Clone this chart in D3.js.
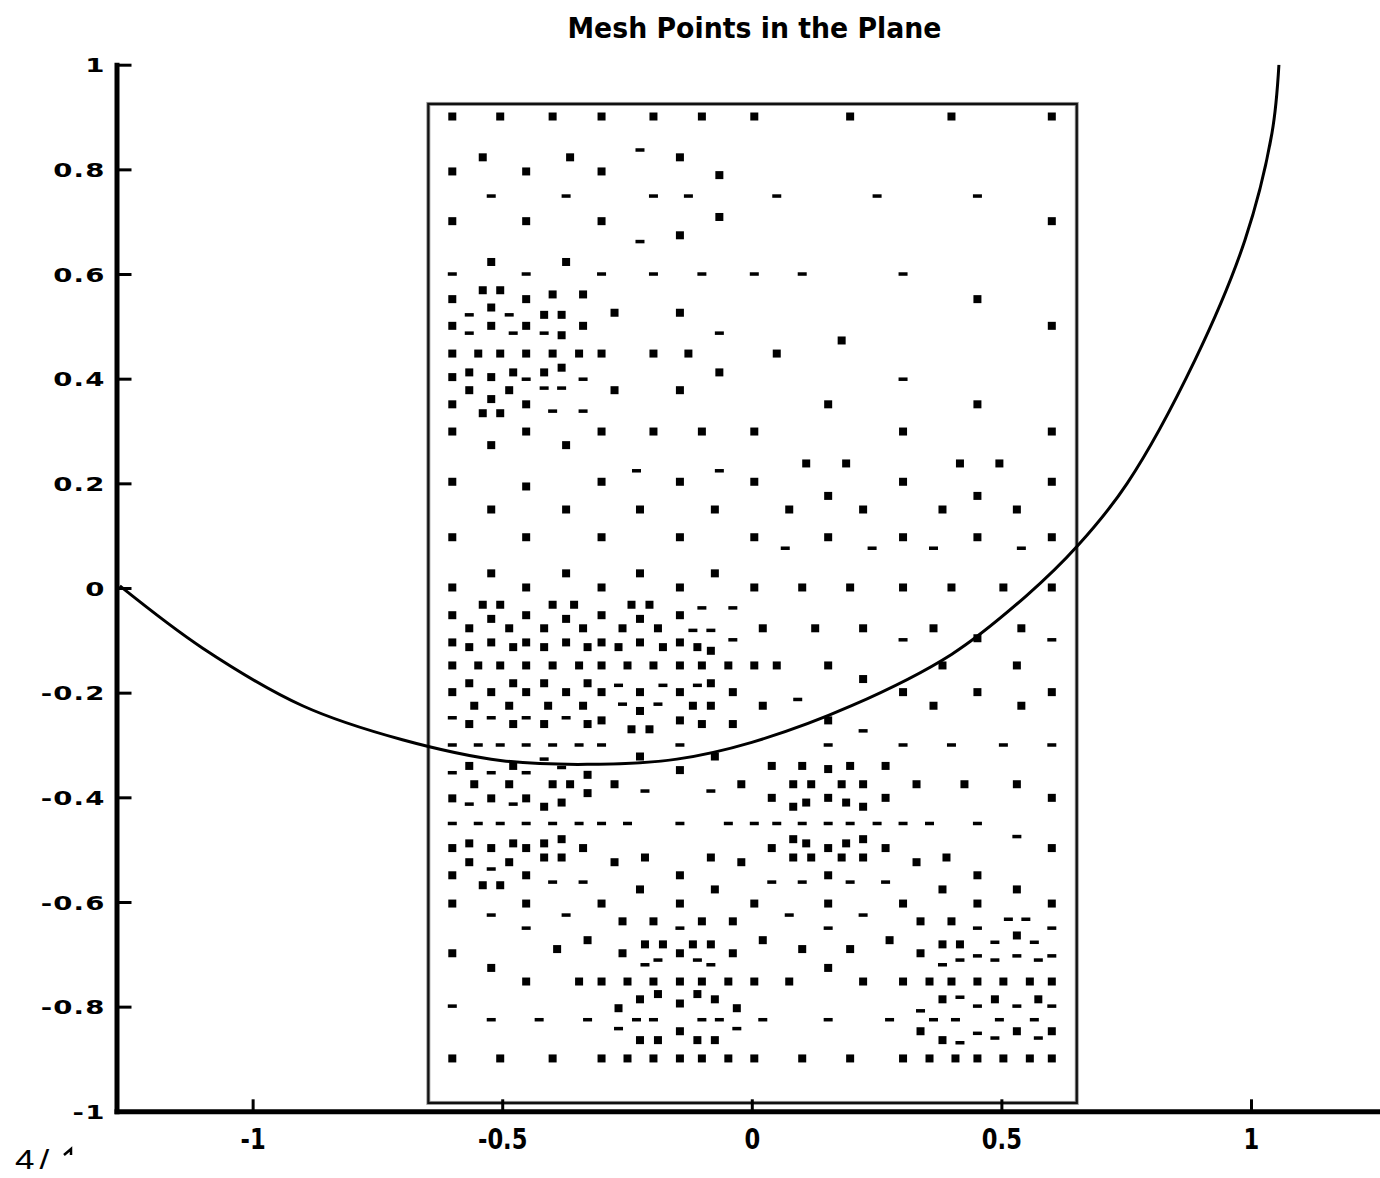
<!DOCTYPE html>
<html>
<head>
<meta charset="utf-8">
<script src="https://cdn.jsdelivr.net/npm/d3@7"></script>
<style>
  body { margin: 0; background: #fff; }
  svg { display: block; }
</style>
</head>
<body>
<div id="vis"></div>
<script>
// frame
const FRAME_WIDTH = 1380;
const FRAME_HEIGHT = 1178;

// axis ticks
const xTickValues = [-1, -0.5, 0, 0.5, 1];
const xTickLabels = ["-1", "-0.5", "0", "0.5", "1"];
const yTickValues = [-1, -0.8, -0.6, -0.4, -0.2, 0, 0.2, 0.4, 0.6, 0.8, 1];
const yTickLabels = ["-1", "-0.8", "-0.6", "-0.4", "-0.2", "0", "0.2", "0.4", "0.6", "0.8", "1"];

// mesh box: xmin, xmax, ymin, ymax
const meshBox = [-0.648, 0.651, -0.984, 0.925];

// mesh points drawn as full dots, per row: [y, [x...]]
const squareRows = [
  [0.901, [-0.600, -0.504, -0.399, -0.301, -0.197, -0.100, 0.005, 0.197, 0.400, 0.601]],
  [0.823, [-0.539, -0.364, -0.144]],
  [0.796, [-0.600, -0.452, -0.301]],
  [0.789, [-0.065]],
  [0.709, [-0.065]],
  [0.701, [-0.600, -0.452, -0.301, 0.601]],
  [0.674, [-0.144]],
  [0.623, [-0.522, -0.372]],
  [0.569, [-0.539, -0.504]],
  [0.561, [-0.399, -0.338]],
  [0.552, [-0.600, -0.452, 0.452]],
  [0.536, [-0.522]],
  [0.526, [-0.275, -0.144]],
  [0.522, [-0.416, -0.381]],
  [0.501, [-0.600, -0.522, -0.452, -0.338, 0.601]],
  [0.483, [-0.381]],
  [0.473, [0.180]],
  [0.448, [-0.600, -0.548, -0.504, -0.452, -0.399, -0.346, -0.301, -0.197, -0.127, 0.050]],
  [0.421, [-0.381]],
  [0.412, [-0.566, -0.478, -0.416, -0.065]],
  [0.403, [-0.600, -0.522]],
  [0.378, [-0.566, -0.486, -0.275, -0.144]],
  [0.361, [-0.522]],
  [0.351, [-0.600, -0.452, 0.153, 0.452]],
  [0.334, [-0.539, -0.504]],
  [0.299, [-0.600, -0.452, -0.301, -0.197, -0.100, 0.005, 0.303, 0.601]],
  [0.273, [-0.522, -0.372]],
  [0.238, [0.109, 0.189, 0.417, 0.496]],
  [0.203, [-0.600, -0.301, -0.144, 0.005, 0.303, 0.601]],
  [0.194, [-0.452]],
  [0.176, [0.153, 0.452]],
  [0.150, [-0.522, -0.372, -0.224, -0.074, 0.075, 0.223, 0.382, 0.531]],
  [0.097, [-0.600, -0.452, -0.301, -0.144, 0.005, 0.153, 0.303, 0.452, 0.601]],
  [0.028, [-0.522, -0.372, -0.224, -0.074]],
  [0.001, [-0.600, -0.452, -0.301, -0.144, 0.005, 0.101, 0.197, 0.303, 0.400, 0.504, 0.601]],
  [-0.032, [-0.539, -0.504, -0.399, -0.356, -0.241, -0.205]],
  [-0.052, [-0.600, -0.452, -0.301, -0.144]],
  [-0.059, [-0.522, -0.372, -0.224]],
  [-0.077, [-0.566, -0.486, -0.416, -0.338, -0.259, -0.188, 0.022, 0.127, 0.223, 0.364, 0.540]],
  [-0.096, [0.452]],
  [-0.104, [-0.600, -0.522, -0.452, -0.372, -0.301, -0.224, -0.144]],
  [-0.113, [-0.566, -0.478, -0.416, -0.329, -0.267, -0.178, -0.109]],
  [-0.120, [-0.082]],
  [-0.148, [-0.600, -0.548, -0.504, -0.452, -0.399, -0.346, -0.301, -0.249, -0.197, -0.144, -0.100, -0.047, 0.005, 0.050, 0.153, 0.382, 0.531]],
  [-0.174, [0.223]],
  [-0.182, [-0.566, -0.478, -0.416, -0.329, -0.082]],
  [-0.199, [-0.600, -0.522, -0.452, -0.372, -0.301, -0.224, -0.144, -0.038, 0.303, 0.452, 0.601]],
  [-0.225, [-0.556, -0.486, -0.408, -0.338, -0.118, -0.082, 0.022, 0.364, 0.540]],
  [-0.235, [-0.224]],
  [-0.253, [-0.301, -0.144, 0.153]],
  [-0.260, [-0.566, -0.478, -0.416, -0.329, -0.100, -0.038]],
  [-0.270, [-0.241, -0.205]],
  [-0.322, [-0.224, -0.074]],
  [-0.340, [-0.566, -0.478, 0.040, 0.101, 0.197, 0.268]],
  [-0.346, [0.153]],
  [-0.348, [-0.144]],
  [-0.357, [-0.329]],
  [-0.375, [-0.556, -0.486, -0.399, -0.364, -0.275, -0.021, 0.083, 0.119, 0.180, 0.223, 0.330, 0.426, 0.531]],
  [-0.392, [-0.329]],
  [-0.401, [0.040, 0.153, 0.268, 0.601]],
  [-0.402, [-0.600, -0.522, -0.452]],
  [-0.410, [-0.381, 0.109, 0.189]],
  [-0.418, [-0.416, 0.083, 0.223]],
  [-0.480, [-0.381, 0.083, 0.223]],
  [-0.488, [-0.566, -0.478, -0.416, 0.109, 0.189]],
  [-0.497, [-0.600, -0.522, -0.452, -0.338, 0.040, 0.153, 0.268, 0.601]],
  [-0.515, [-0.416, -0.381, -0.214, -0.082, 0.083, 0.119, 0.180, 0.223, 0.390]],
  [-0.524, [-0.566, -0.486, -0.275, -0.021, 0.330]],
  [-0.549, [-0.600, -0.452, -0.144, 0.153, 0.452]],
  [-0.568, [-0.539, -0.504]],
  [-0.576, [-0.224, -0.074, 0.382, 0.531]],
  [-0.603, [-0.600, -0.452, -0.301, -0.144, 0.005, 0.153, 0.303, 0.452, 0.601]],
  [-0.637, [-0.259, -0.197, -0.100, -0.038, 0.338, 0.400]],
  [-0.664, [0.531]],
  [-0.673, [-0.329, 0.022, 0.276]],
  [-0.681, [-0.214, -0.178, -0.118, -0.082, 0.382, 0.417]],
  [-0.690, [-0.390, 0.101, 0.197]],
  [-0.698, [-0.600, -0.259, -0.144, -0.038, 0.338]],
  [-0.726, [-0.522, 0.153]],
  [-0.752, [-0.452, -0.346, -0.301, -0.249, -0.197, -0.144, -0.100, -0.047, 0.005, 0.075, 0.223, 0.303, 0.356, 0.400, 0.452, 0.504, 0.557, 0.601]],
  [-0.776, [-0.188, -0.109]],
  [-0.786, [-0.224, -0.074, 0.382, 0.487, 0.574]],
  [-0.794, [-0.144]],
  [-0.803, [-0.267, -0.030]],
  [-0.847, [-0.144, 0.338, 0.531, 0.601]],
  [-0.864, [-0.224, -0.188, -0.109, -0.074, 0.382]],
  [-0.899, [-0.600, -0.504, -0.399, -0.301, -0.249, -0.197, -0.144, -0.100, -0.047, 0.005, 0.101, 0.197, 0.303, 0.356, 0.408, 0.452, 0.504, 0.557, 0.601]]
];

// mesh points that show up as flat dashes, per row: [y, [x...]]
const dashRows = [
  [0.837, [-0.224]],
  [0.749, [-0.522, -0.372, -0.197, -0.127, 0.050, 0.251, 0.452]],
  [0.662, [-0.224]],
  [0.600, [-0.600, -0.452, -0.301, -0.197, -0.100, 0.005, 0.101, 0.303]],
  [0.522, [-0.566, -0.486]],
  [0.487, [-0.566, -0.478, -0.416, -0.065]],
  [0.399, [-0.452, -0.338, 0.303]],
  [0.382, [-0.416, -0.381]],
  [0.338, [-0.399, -0.338]],
  [0.224, [-0.231, -0.065]],
  [0.076, [0.067, 0.241, 0.364, 0.540]],
  [-0.038, [-0.100, -0.038]],
  [-0.081, [-0.118, -0.082]],
  [-0.099, [-0.038, 0.303, 0.601]],
  [-0.186, [-0.267, -0.178, -0.109]],
  [-0.213, [0.092]],
  [-0.222, [-0.259, -0.188]],
  [-0.248, [-0.600, -0.522, -0.452, -0.372]],
  [-0.273, [0.223]],
  [-0.300, [-0.600, -0.548, -0.504, -0.452, -0.399, -0.346, -0.301, -0.144, 0.153, 0.303, 0.400, 0.504, 0.601]],
  [-0.327, [-0.416]],
  [-0.343, [-0.381]],
  [-0.353, [-0.600, -0.522, -0.452]],
  [-0.388, [-0.214, -0.082]],
  [-0.413, [-0.566, -0.478]],
  [-0.450, [-0.600, -0.548, -0.504, -0.452, -0.399, -0.346, -0.301, -0.249, -0.144, -0.047, 0.005, 0.050, 0.101, 0.153, 0.197, 0.251, 0.303, 0.356, 0.452]],
  [-0.475, [0.531]],
  [-0.537, [-0.522]],
  [-0.562, [-0.399, -0.338, 0.040, 0.101, 0.197, 0.268]],
  [-0.625, [-0.522, -0.372, 0.075, 0.223]],
  [-0.633, [0.514, 0.549]],
  [-0.650, [-0.452, -0.144, 0.153, 0.452, 0.601]],
  [-0.677, [0.487, 0.566]],
  [-0.703, [0.452, 0.531, 0.601]],
  [-0.711, [-0.188, -0.109, 0.417, 0.487, 0.574]],
  [-0.720, [-0.214, -0.082, 0.382]],
  [-0.782, [0.417]],
  [-0.799, [-0.600, 0.452, 0.531, 0.601]],
  [-0.808, [0.338]],
  [-0.825, [-0.522, -0.426, -0.329, -0.231, -0.197, -0.100, -0.065, 0.022, 0.153, 0.276, 0.364, 0.408, 0.496, 0.566]],
  [-0.842, [-0.267, -0.030]],
  [-0.851, [0.452]],
  [-0.860, [0.487, 0.574]],
  [-0.869, [0.417]]
];

// the boundary curve
const curvePoints = [
  [-1.266, 0.004], [-1.100, -0.115], [-0.900, -0.225], [-0.700, -0.290],
  [-0.500, -0.330], [-0.330, -0.337], [-0.150, -0.327], [0.000, -0.295],
  [0.200, -0.225], [0.400, -0.127], [0.550, -0.015], [0.654, 0.082],
  [0.752, 0.200], [0.888, 0.436], [0.988, 0.665], [1.042, 0.869], [1.056, 1.000]
];

const squares = squareRows.flatMap(([y, xs]) => xs.map((x) => [x, y]));
const dashes = dashRows.flatMap(([y, xs]) => xs.map((x) => [x, y]));

// scales
const X_SCALE = d3.scaleLinear()
                  .domain([-1.2727, 1.2727])
                  .range([116.5, 1387.1]);
const Y_SCALE = d3.scaleLinear()
                  .domain([-1, 1])
                  .range([1111.3, 64.7]);

const FRAME = d3.select("#vis")
                .append("svg")
                  .attr("width", FRAME_WIDTH)
                  .attr("height", FRAME_HEIGHT);

FRAME.append("rect")
  .attr("width", FRAME_WIDTH)
  .attr("height", FRAME_HEIGHT)
  .attr("fill", "#fff");

// clip for the plot area
FRAME.append("clipPath")
    .attr("id", "plotclip")
  .append("rect")
    .attr("x", X_SCALE(-1.2727))
    .attr("y", Y_SCALE(1))
    .attr("width", FRAME_WIDTH - X_SCALE(-1.2727))
    .attr("height", Y_SCALE(-1) - Y_SCALE(1));

// title
FRAME.append("text")
  .attr("x", 754.5)
  .attr("y", 38)
  .attr("text-anchor", "middle")
  .attr("textLength", 374)
  .attr("lengthAdjust", "spacingAndGlyphs")
  .attr("font-family", "DejaVu Sans")
  .attr("font-weight", "bold")
  .attr("font-size", 29)
  .text("Mesh Points in the Plane");

// mesh box
FRAME.append("rect")
  .attr("x", X_SCALE(meshBox[0]))
  .attr("y", Y_SCALE(meshBox[3]))
  .attr("width", X_SCALE(meshBox[1]) - X_SCALE(meshBox[0]))
  .attr("height", Y_SCALE(meshBox[2]) - Y_SCALE(meshBox[3]))
  .attr("fill", "none")
  .attr("stroke", "#999")
  .attr("stroke-width", 4);

FRAME.append("rect")
  .attr("x", X_SCALE(meshBox[0]))
  .attr("y", Y_SCALE(meshBox[3]))
  .attr("width", X_SCALE(meshBox[1]) - X_SCALE(meshBox[0]))
  .attr("height", Y_SCALE(meshBox[2]) - Y_SCALE(meshBox[3]))
  .attr("fill", "none")
  .attr("stroke", "#111")
  .attr("stroke-width", 2.2);

// points
FRAME.append("g").selectAll("rect")
  .data(squares)
  .enter()
  .append("rect")
    .attr("x", (d) => X_SCALE(d[0]) - 4)
    .attr("y", (d) => Y_SCALE(d[1]) - 4)
    .attr("width", 8)
    .attr("height", 8)
    .attr("fill", "#000");

FRAME.append("g").selectAll("rect")
  .data(dashes)
  .enter()
  .append("rect")
    .attr("x", (d) => X_SCALE(d[0]) - 4.5)
    .attr("y", (d) => Y_SCALE(d[1]) - 1.75)
    .attr("width", 9)
    .attr("height", 3.5)
    .attr("fill", "#000");

// curve
const line = d3.line()
               .x((d) => X_SCALE(d[0]))
               .y((d) => Y_SCALE(d[1]))
               .curve(d3.curveCatmullRom.alpha(0.5));

FRAME.append("path")
  .datum(curvePoints)
  .attr("d", line)
  .attr("clip-path", "url(#plotclip)")
  .attr("fill", "none")
  .attr("stroke", "#000")
  .attr("stroke-width", 3);

// x axis
const xAxisG = FRAME.append("g")
  .attr("transform", "translate(0," + Y_SCALE(-1) + ")")
  .call(d3.axisBottom(X_SCALE)
          .tickValues(xTickValues)
          .tickFormat((d, i) => xTickLabels[i])
          .tickSizeInner(-12)
          .tickSizeOuter(0));

xAxisG.select(".domain")
  .attr("stroke", "#000")
  .attr("stroke-width", 5)
  .attr("stroke-linecap", "square");
xAxisG.selectAll(".tick line")
  .attr("stroke", "#000")
  .attr("stroke-width", 3);
xAxisG.selectAll(".tick text")
  .attr("y", 38)
  .attr("dy", null)
  .attr("transform", "scale(0.78,1)")
  .attr("fill", "#000")
  .attr("font-family", "DejaVu Sans")
  .attr("font-weight", "bold")
  .attr("font-size", 29);

// y axis
const yAxisG = FRAME.append("g")
  .attr("transform", "translate(" + X_SCALE(-1.2727) + ",0)")
  .call(d3.axisLeft(Y_SCALE)
          .tickValues(yTickValues)
          .tickFormat((d, i) => yTickLabels[i])
          .tickSizeInner(-15)
          .tickSizeOuter(0));

yAxisG.select(".domain")
  .attr("stroke", "#000")
  .attr("stroke-width", 5)
  .attr("stroke-linecap", "square");
yAxisG.selectAll(".tick line")
  .attr("stroke", "#000")
  .attr("stroke-width", 3);
yAxisG.selectAll(".tick text")
  .attr("x", -11 / 1.45)
  .attr("dy", "0.38em")
  .attr("transform", "scale(1.45,1)")
  .attr("letter-spacing", 0.8)
  .attr("fill", "#000")
  .attr("font-family", "DejaVu Sans")
  .attr("font-weight", "bold")
  .attr("font-size", 19);

// footer stamp, its third character mostly cut away
FRAME.append("text")
  .attr("x", 15 / 1.25)
  .attr("y", 1169)
  .attr("transform", "scale(1.25,1)")
  .attr("font-family", "Liberation Sans")
  .attr("font-size", 28)
  .attr("letter-spacing", 4)
  .attr("fill", "#000")
  .text("4/");

FRAME.append("path")
  .attr("d", "M64,1155 L71,1149 L71,1155")
  .attr("fill", "none")
  .attr("stroke", "#000")
  .attr("stroke-width", 2.5);
</script>
</body>
</html>
